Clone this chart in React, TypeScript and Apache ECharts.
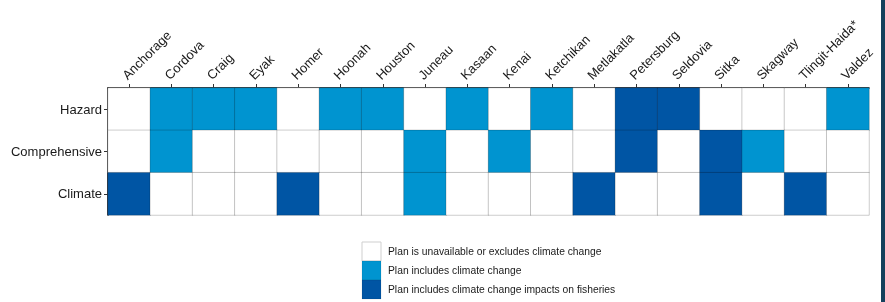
import React, { useEffect, useRef } from "react";
import * as echarts from "echarts";

const cities = [
  "Anchorage", "Cordova", "Craig", "Eyak", "Homer", "Hoonah", "Houston", "Juneau", "Kasaan",
  "Kenai", "Ketchikan", "Metlakatla", "Petersburg", "Seldovia", "Sitka", "Skagway", "Tlingit-Haida*", "Valdez",
];
const planTypes = ["Hazard", "Comprehensive", "Climate"];
// 0 = unavailable/excludes, 1 = includes climate change, 2 = includes fisheries impacts
const hazard = [0, 1, 1, 1, 0, 1, 1, 0, 1, 0, 1, 0, 2, 2, 0, 0, 0, 1];
const comprehensive = [0, 1, 0, 0, 0, 0, 0, 1, 0, 1, 0, 0, 2, 0, 2, 1, 0, 0];
const climate = [2, 0, 0, 0, 2, 0, 0, 1, 0, 0, 0, 2, 0, 0, 2, 0, 2, 0];
const legendLabels = [
  "Plan is unavailable or excludes climate change",
  "Plan includes climate change",
  "Plan includes climate change impacts on fisheries",
];
const colors = ["#ffffff", "#0094d0", "#0055a4"];

export default function App() {
  const ref = useRef<HTMLDivElement>(null);
  useEffect(() => {
    if (!ref.current) return;
    const chart = echarts.init(ref.current, null, { renderer: "svg" });
    const rows = [hazard, comprehensive, climate];
    const data: number[][] = [];
    rows.forEach((row, yi) => row.forEach((v, xi) => data.push([xi, yi, v])));
    const font = "'Liberation Sans', Arial, sans-serif";
    const graphic: any[] = [
      { type: "rect", shape: { x: 881, y: 0, width: 4, height: 302 }, style: { fill: "#15405c" } },
    ];
    legendLabels.forEach((lab, i) => {
      graphic.push({
        type: "rect",
        shape: { x: 362, y: 242 + i * 19, width: 19, height: 19 },
        style: { fill: colors[i], stroke: i === 0 ? "#cfcfcf" : "rgba(0,0,0,0.08)", lineWidth: 1 },
      });
      graphic.push({
        type: "text",
        x: 388,
        y: 251.5 + i * 19,
        style: { text: lab, fill: "#1a1a1a", font: `10.3px ${font}`, textVerticalAlign: "middle" },
      });
    });
    chart.setOption({
      animation: false,
      textStyle: { fontFamily: font },
      grid: { left: 108, top: 88, width: 761, height: 127 },
      xAxis: {
        type: "category",
        position: "top",
        data: cities,
        axisLine: { show: true, lineStyle: { color: "#000", width: 1.5 } },
        axisTick: { show: true, alignWithLabel: true, length: 4, lineStyle: { color: "#333" } },
        axisLabel: {
          rotate: -45,
          fontSize: 13,
          color: "#1a1a1a",
          margin: 6,
          interval: 0,
          verticalAlign: "bottom",
        },
        splitLine: { show: false },
      },
      yAxis: {
        type: "category",
        data: planTypes,
        inverse: true,
        axisLine: { show: true, lineStyle: { color: "#000", width: 1.5 } },
        axisTick: { show: true, alignWithLabel: true, length: 4, lineStyle: { color: "#333" } },
        axisLabel: { fontSize: 13, color: "#1a1a1a", margin: 6 },
        splitLine: { show: false },
      },
      visualMap: {
        show: false,
        type: "piecewise",
        dimension: 2,
        pieces: colors.map((c, i) => ({ value: i, color: c })),
      },
      series: [
        {
          type: "heatmap",
          data,
          itemStyle: { borderColor: "rgba(0,0,0,0.2)", borderWidth: 1 },
          emphasis: { disabled: true },
        },
      ],
      graphic,
    });
    return () => chart.dispose();
  }, []);
  return <div ref={ref} style={{ position: "fixed", left: 0, top: 0, width: 885, height: 302 }} />;
}
